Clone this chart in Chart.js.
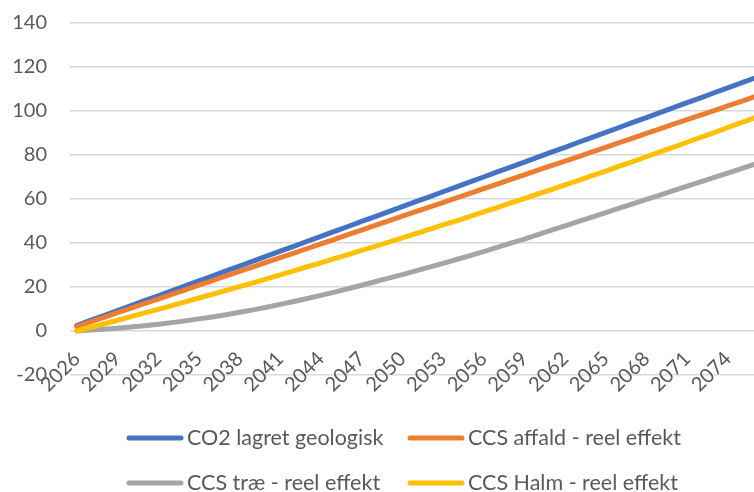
<!DOCTYPE html>
<html><head><meta charset="utf-8">
<script src="https://cdn.jsdelivr.net/npm/chart.js@4/dist/chart.umd.min.js"></script>
<style>
html,body{margin:0;padding:0;background:#fff;overflow:hidden}
#wrap{width:754px;height:492px;overflow:hidden;position:relative}
#box{width:780px;height:492px;position:absolute;left:0;top:0}
</style></head><body>
<div id="wrap"><div id="box"><canvas id="c"></canvas></div></div>
<script>
const years = [2026,2027,2028,2029,2030,2031,2032,2033,2034,2035,2036,2037,2038,2039,2040,2041,2042,2043,2044,2045,2046,2047,2048,2049,2050,2051,2052,2053,2054,2055,2056,2057,2058,2059,2060,2061,2062,2063,2064,2065,2066,2067,2068,2069,2070,2071,2072,2073,2074,2075,2076];
const co2LagretGeologisk = [2.5,4.8,7.0,9.3,11.5,13.8,16.0,18.3,20.5,22.8,25.0,27.3,29.5,31.8,34.0,36.3,38.5,40.8,43.0,45.3,47.5,49.8,52.0,54.3,56.5,58.8,61.0,63.3,65.5,67.8,70.0,72.3,74.5,76.8,79.0,81.3,83.5,85.8,88.0,90.3,92.5,94.8,97.0,99.3,101.5,103.8,106.0,108.3,110.5,112.8,115.0];
const ccsAffald = [2.0,4.1,6.2,8.3,10.4,12.5,14.5,16.6,18.7,20.8,22.9,25.0,27.1,29.2,31.3,33.4,35.4,37.5,39.6,41.7,43.8,45.9,48.0,50.1,52.2,54.3,56.3,58.4,60.5,62.6,64.7,66.8,68.9,71.0,73.1,75.2,77.2,79.3,81.4,83.5,85.6,87.7,89.8,91.9,94.0,96.1,98.1,100.2,102.3,104.4,106.5];
const ccsTrae = [0,0.4,0.8,1.2,1.8,2.4,3.1,3.8,4.6,5.5,6.4,7.4,8.5,9.6,10.8,12.1,13.4,14.8,16.2,17.7,19.2,20.8,22.4,24.0,25.6,27.3,29.0,30.7,32.5,34.3,36.1,38.0,39.9,41.8,43.8,45.8,47.8,49.8,51.8,53.8,55.8,57.8,59.8,61.8,63.8,65.8,67.8,69.8,71.8,73.8,75.8];
const ccsHalm = [0,1.6,3.2,4.9,6.5,8.2,9.8,11.5,13.2,15.0,16.7,18.4,20.2,21.9,23.7,25.5,27.3,29.2,31.0,32.9,34.7,36.6,38.5,40.4,42.3,44.3,46.2,48.2,50.1,52.1,54.1,56.1,58.2,60.2,62.3,64.3,66.4,68.5,70.6,72.7,74.9,77.0,79.2,81.4,83.6,85.8,88.0,90.2,92.5,94.7,97.0];
const seriesNames = ["CO2 lagret geologisk","CCS affald - reel effekt","CCS træ - reel effekt","CCS Halm - reel effekt"];
const yMin = -20, yMax = 140, yStep = 20;
const labelEvery = 3;

const FONT = "Lato, 'Open Sans', sans-serif";
const TXT = '#595959';
const colors = ['#4472C4','#ED7D31','#A5A5A5','#FFC000'];

// legend laid out as a 2x2 grid like the original
const legendLayout = { cols:[127,408], rows:[438,483], swatch:56, gap:4, size:21.5 };
const gridLegend = {
  id:'gridLegend',
  afterDraw(chart){
    const c = chart.ctx;
    c.save();
    chart.data.datasets.forEach((ds,i)=>{
      const col = legendLayout.cols[i%2], row = legendLayout.rows[Math.floor(i/2)];
      c.strokeStyle = ds.borderColor; c.lineWidth = 5; c.lineCap='round';
      c.beginPath(); c.moveTo(col+2,row); c.lineTo(col+legendLayout.swatch-2,row); c.stroke();
      c.fillStyle = TXT; c.font = legendLayout.size+'px '+FONT; c.textBaseline='middle'; c.textAlign='left';
      c.fillText(ds.label, col+legendLayout.swatch+legendLayout.gap, row);
    });
    c.restore();
  }
};

const seriesData = [co2LagretGeologisk, ccsAffald, ccsTrae, ccsHalm];
const datasets = seriesData.map((d,i)=>({
  label: seriesNames[i], data: d, borderColor: colors[i], backgroundColor: colors[i],
  borderWidth: 5, pointRadius: 0, tension: 0, fill:false, borderCapStyle:'round', borderJoinStyle:'round',
  order: 4-i
}));

new Chart(document.getElementById('c'), {
  type:'line',
  data:{ labels: years, datasets },
  options:{
    responsive:true, maintainAspectRatio:false, animation:false,
    layout:{ padding:{ top:23, right:12, bottom:117, left:0 } },
    plugins:{ legend:{display:false}, tooltip:{enabled:false} },
    scales:{
      x:{ position:{ y:0 }, offset:true,
          grid:{ display:false }, border:{ display:false },
          ticks:{ autoSkip:false, maxRotation:45, minRotation:45, padding:8, color:TXT,
                  font:{ family:FONT, size:20 },
                  callback:(v,i)=> i%labelEvery===0 ? years[i] : '' } },
      y:{ min:yMin, max:yMax,
          ticks:{ stepSize:yStep, padding:0, color:TXT, font:{ family:FONT, size:20 } },
          grid:{ color:'#d9d9d9', lineWidth:1.5, drawTicks:true, tickLength:23, tickColor:'rgba(0,0,0,0)' },
          border:{ display:false },
          afterFit:(s)=>{ s.width = 70; } }
    }
  },
  plugins:[gridLegend]
});
</script>
</body></html>
